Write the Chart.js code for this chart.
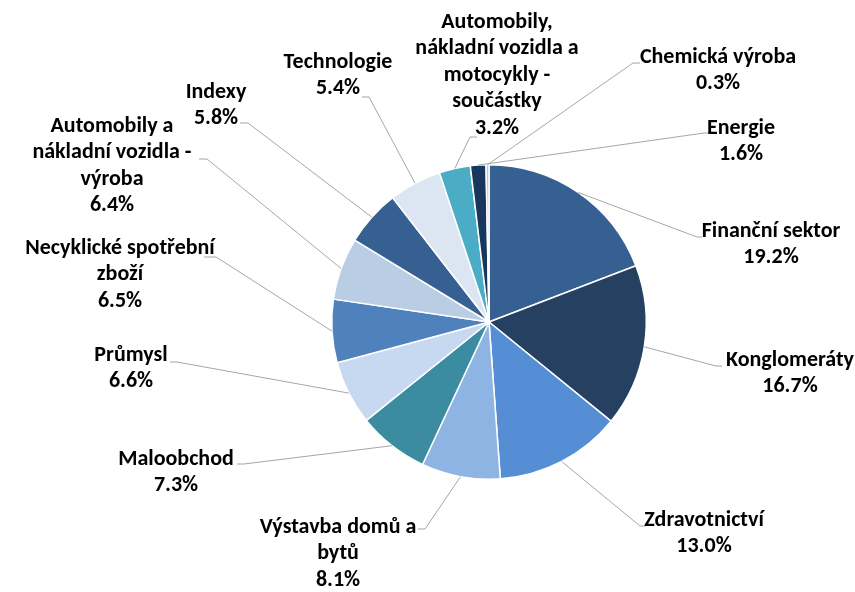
<!DOCTYPE html>
<html>
<head>
<meta charset="utf-8">
<script src="https://cdn.jsdelivr.net/npm/chart.js@4/dist/chart.umd.min.js"></script>
<style>
  html, body { margin: 0; padding: 0; background: #fff; }
  #wrap { width: 855px; height: 592px; position: relative; }
</style>
</head>
<body>
<div id="wrap"><canvas id="c" width="855" height="592"></canvas></div>
<script>
// Sector breakdown (share of portfolio, %)
const categories = [
  'Finanční sektor',
  'Konglomeráty',
  'Zdravotnictví',
  'Výstavba domů a\nbytů',
  'Maloobchod',
  'Průmysl',
  'Necyklické spotřební\nzboží',
  'Automobily a\nnákladní vozidla -\nvýroba',
  'Indexy',
  'Technologie',
  'Automobily,\nnákladní vozidla a\nmotocykly -\nsoučástky',
  'Energie',
  'Chemická výroba'
];
const shares = [19.2, 16.7, 13.0, 8.1, 7.3, 6.6, 6.5, 6.4, 5.8, 5.4, 3.2, 1.6, 0.3];

const sliceColors = [
  '#376092', '#254061', '#558ED5', '#8EB4E3', '#3B8BA1', '#C6D9F1', '#4F81BD',
  '#B9CDE5', '#376092', '#DCE6F2', '#4BACC6', '#17375E', '#B4C7DC'
];

// Label placement: centre x of the text block, centre y of its first line,
// leader elbow point and the end of the short horizontal stub.
const labelLayout = [
  { cx: 771, ty: 231, ex: 697, ey: 237, sx: 702 },
  { cx: 790, ty: 360, ex: 716, ey: 366, sx: 722 },
  { cx: 704, ty: 520, ex: 640, ey: 526, sx: 646 },
  { cx: 338, ty: 527, ex: 425, ey: 529, sx: 418 },
  { cx: 176, ty: 459, ex: 244, ey: 464, sx: 237 },
  { cx: 131, ty: 355, ex: 177, ey: 362, sx: 170 },
  { cx: 120, ty: 248, ex: 216, ey: 257, sx: 204 },
  { cx: 112, ty: 126, ex: 207, ey: 159, sx: 199 },
  { cx: 216, ty: 92,  ex: 248, ey: 123, sx: 240 },
  { cx: 338, ty: 62,  ex: 369, ey: 97,  sx: 362 },
  { cx: 497, ty: 22,  ex: 470, ey: 137, sx: 477 },
  { cx: 741, ty: 128, ex: 704, ey: 133, sx: 712 },
  { cx: 718, ty: 57,  ex: 633, ey: 63,  sx: 640 }
];

const LABEL_FONT = 'bold 22px Carlito, "Liberation Sans Narrow", Lato, sans-serif';
const LINE_H = 26.5;

const outsideLabels = {
  id: 'outsideLabels',
  afterDatasetsDraw(chart) {
    const ctx = chart.ctx;
    const meta = chart.getDatasetMeta(0);
    const values = chart.data.datasets[0].data;
    ctx.save();
    meta.data.forEach((arc, i) => {
      const lay = labelLayout[i];
      const mid = (arc.startAngle + arc.endAngle) / 2;
      const px = arc.x + Math.cos(mid) * arc.outerRadius;
      const py = arc.y + Math.sin(mid) * arc.outerRadius;
      // leader line
      ctx.strokeStyle = '#A6A6A6';
      ctx.lineWidth = 1;
      ctx.beginPath();
      ctx.moveTo(px, py);
      ctx.lineTo(lay.ex, lay.ey);
      ctx.lineTo(lay.sx, lay.ey);
      ctx.stroke();
      // text block
      const lines = chart.data.labels[i].split('\n');
      lines.push(values[i].toFixed(1) + '%');
      ctx.fillStyle = '#000000';
      ctx.font = LABEL_FONT;
      ctx.textAlign = 'center';
      ctx.textBaseline = 'middle';
      lines.forEach((t, k) => {
        const y = lay.ty + k * LINE_H;
        ctx.fillText(t, lay.cx, y);
      });
    });
    ctx.restore();
  }
};

new Chart(document.getElementById('c'), {
  type: 'pie',
  data: {
    labels: categories,
    datasets: [{
      data: shares,
      backgroundColor: sliceColors,
      borderColor: '#FFFFFF',
      borderWidth: 1.5
    }]
  },
  options: {
    responsive: false,
    animation: false,
    layout: { padding: { left: 331, right: 208, top: 164, bottom: 112 } },
    plugins: {
      legend: { display: false },
      tooltip: { enabled: false }
    }
  },
  plugins: [outsideLabels]
});
</script>
</body>
</html>
